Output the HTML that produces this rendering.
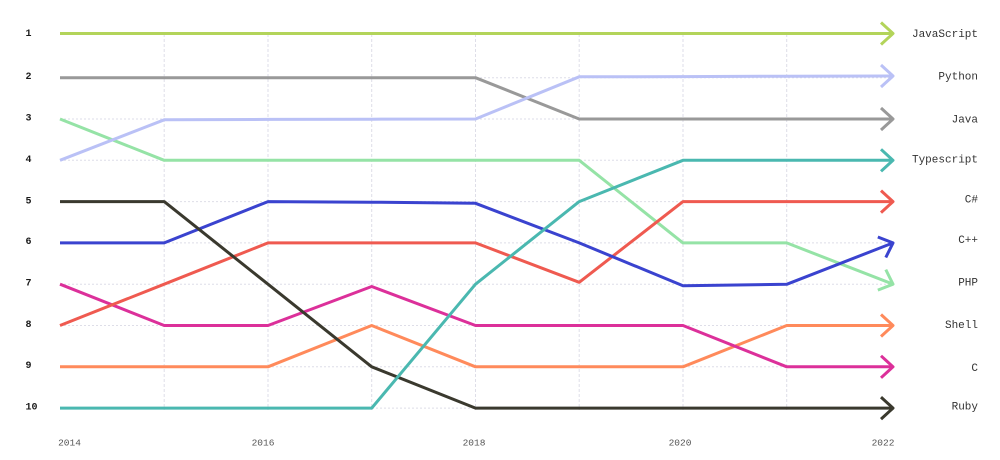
<!DOCTYPE html>
<html>
<head>
<meta charset="utf-8">
<style>
  html, body { margin: 0; padding: 0; background: #ffffff; }
  svg { display: block; }
  text { font-family: "Liberation Mono", "DejaVu Sans Mono", monospace; }
</style>
</head>
<body>
<svg width="1000" height="460" viewBox="0 0 1000 460" xmlns="http://www.w3.org/2000/svg">
  <rect width="1000" height="460" fill="#ffffff"/>

  <!-- horizontal grid -->
  <g stroke="#dedee8" stroke-width="1" stroke-dasharray="2,2" fill="none">
    <line x1="60" y1="77.7" x2="893" y2="77.7"/>
    <line x1="60" y1="119" x2="893" y2="119"/>
    <line x1="60" y1="160.3" x2="893" y2="160.3"/>
    <line x1="60" y1="201.6" x2="893" y2="201.6"/>
    <line x1="60" y1="242.9" x2="893" y2="242.9"/>
    <line x1="60" y1="284.2" x2="893" y2="284.2"/>
    <line x1="60" y1="325.5" x2="893" y2="325.5"/>
    <line x1="60" y1="366.8" x2="893" y2="366.8"/>
    <line x1="60" y1="408.1" x2="893" y2="408.1"/>
  </g>
  <!-- vertical grid -->
  <g stroke="#dedee8" stroke-width="1" stroke-dasharray="3,2" fill="none">
    <line x1="164.2" y1="34" x2="164.2" y2="410"/>
    <line x1="268" y1="34" x2="268" y2="410"/>
    <line x1="371.7" y1="34" x2="371.7" y2="410"/>
    <line x1="475.5" y1="34" x2="475.5" y2="410"/>
    <line x1="579.2" y1="34" x2="579.2" y2="410"/>
    <line x1="683" y1="34" x2="683" y2="410"/>
    <line x1="786.7" y1="34" x2="786.7" y2="410"/>
  </g>

  <!-- y labels -->
  <g font-size="10" font-weight="bold" fill="#1a1a1a" dominant-baseline="central">
    <text x="25.5" y="34.3">1</text>
    <text x="25.5" y="77.7">2</text>
    <text x="25.5" y="119">3</text>
    <text x="25.5" y="160.3">4</text>
    <text x="25.5" y="202">5</text>
    <text x="25.5" y="242.7">6</text>
    <text x="25.5" y="284">7</text>
    <text x="25.5" y="325.3">8</text>
    <text x="25.5" y="366.5">9</text>
    <text x="25.5" y="408">10</text>
  </g>

  <!-- x labels -->
  <g font-size="9.5" fill="#555" text-anchor="middle" dominant-baseline="central">
    <text x="69.5" y="443">2014</text>
    <text x="263" y="443">2016</text>
    <text x="474" y="443">2018</text>
    <text x="680" y="443">2020</text>
    <text x="883" y="443">2022</text>
  </g>

  <!-- series -->
  <g fill="none" stroke-width="3" stroke-linejoin="round">
    <!-- Shell -->
    <polyline stroke="#ff8a5b" points="60,366.8 164.2,366.8 268,366.8 371.7,325.5 475.5,366.8 579.2,366.8 683,366.8 786.7,325.5 893,325.5"/>
    <!-- C -->
    <polyline stroke="#dc309a" points="60,284.2 164.2,325.5 268,325.5 371.7,286.5 475.5,325.5 579.2,325.5 683,325.5 786.7,366.8 893,366.8"/>
    <!-- PHP -->
    <polyline stroke="#95e3a6" points="60,119 164.2,160.3 268,160.3 371.7,160.3 475.5,160.3 579.2,160.3 683,242.9 786.7,242.9 893,284.2"/>
    <!-- C# -->
    <polyline stroke="#ef5a50" points="60,325.5 164.2,284.2 268,242.9 371.7,242.9 475.5,242.9 579.2,282.3 683,201.6 786.7,201.6 893,201.6"/>
    <!-- C++ -->
    <polyline stroke="#3a43cf" points="60,242.9 164.2,242.9 268,201.6 371.7,202.2 475.5,203.3 579.2,242.9 683,285.7 786.7,284.3 893,242.9"/>
    <!-- Ruby -->
    <polyline stroke="#3a392e" points="60,201.6 164.2,201.6 268,284.2 371.7,366.8 475.5,408.1 579.2,408.1 683,408.1 786.7,408.1 893,408.1"/>
    <!-- Typescript -->
    <polyline stroke="#4ab8b0" points="60,408.1 164.2,408.1 268,408.1 371.7,408.1 475.5,284.2 579.2,201.6 683,160.3 786.7,160.3 893,160.3"/>
    <!-- Java -->
    <polyline stroke="#999999" points="60,77.7 164.2,77.7 268,77.7 371.7,77.7 475.5,77.7 579.2,119 683,119 786.7,119 893,119"/>
    <!-- Python -->
    <polyline stroke="#bac1f6" points="60,160.3 164.2,119.8 268,119.4 371.7,119.2 475.5,119 579.2,76.8 683,76.6 786.7,76.2 893,76"/>
    <!-- JavaScript -->
    <polyline stroke="#b3d45a" points="60,33.5 893,33.5"/>
  </g>

  <!-- arrowheads -->
  <g fill="none" stroke-width="3" stroke-linejoin="round" stroke-linecap="butt">
    <path stroke="#b3d45a" d="M881,22.5 L893,33.5 L881,44.5"/>
    <path stroke="#bac1f6" d="M881,65 L893,76 L881,87"/>
    <path stroke="#999999" d="M881,108 L893,119 L881,130"/>
    <path stroke="#4ab8b0" d="M881,149.3 L893,160.3 L881,171.3"/>
    <path stroke="#ef5a50" d="M881,190.6 L893,201.6 L881,212.6"/>
    <g transform="translate(893,242.9) rotate(-21.2)"><path stroke="#3a43cf" d="M-12,-11 L0,0 L-12,11"/></g>
    <g transform="translate(893,284.2) rotate(21.2)"><path stroke="#95e3a6" d="M-12,-11 L0,0 L-12,11"/></g>
    <path stroke="#ff8a5b" d="M881,314.5 L893,325.5 L881,336.5"/>
    <path stroke="#dc309a" d="M881,355.8 L893,366.8 L881,377.8"/>
    <path stroke="#3a392e" d="M881,397.1 L893,408.1 L881,419.1"/>
  </g>

  <!-- series labels -->
  <g font-size="11" fill="#333" text-anchor="end" dominant-baseline="central">
    <text x="978" y="35">JavaScript</text>
    <text x="978" y="77.5">Python</text>
    <text x="978" y="120.5">Java</text>
    <text x="978" y="160.7">Typescript</text>
    <text x="978" y="200.7">C#</text>
    <text x="978" y="241">C++</text>
    <text x="978" y="283.3">PHP</text>
    <text x="978" y="326">Shell</text>
    <text x="978" y="369">C</text>
    <text x="978" y="407.3">Ruby</text>
  </g>
</svg>
</body>
</html>
